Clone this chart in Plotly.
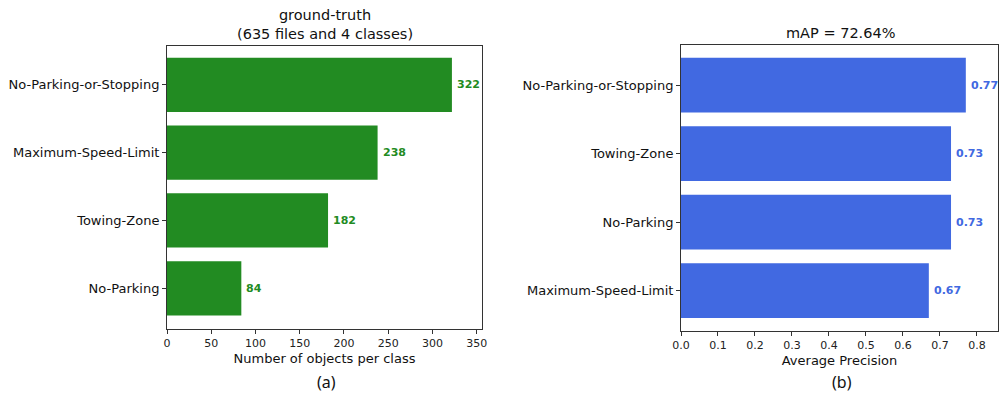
import plotly.graph_objects as go

# Ground-truth object counts per class (bottom to top)
gt_classes = ["No-Parking", "Towing-Zone", "Maximum-Speed-Limit", "No-Parking-or-Stopping"]
gt_counts = [84, 182, 238, 322]

# Average precision per class (bottom to top)
ap_classes = ["Maximum-Speed-Limit", "No-Parking", "Towing-Zone", "No-Parking-or-Stopping"]
ap_values = [0.67, 0.73, 0.73, 0.77]

gt_ticks = [0, 50, 100, 150, 200, 250, 300, 350]
ap_ticks = [0.0, 0.1, 0.2, 0.3, 0.4, 0.5, 0.6, 0.7, 0.8]

GREEN = "#228B22"
BLUE = "#4169E1"
FONT = "DejaVu Sans"
AXIS_COLOR = "#333333"
W, H = 999, 393

fig = go.Figure()

fig.add_trace(go.Bar(
    x=gt_counts, y=gt_classes, orientation="h",
    marker=dict(color=GREEN, line=dict(width=0)),
    width=0.8, xaxis="x", yaxis="y", showlegend=False,
))
fig.add_trace(go.Bar(
    x=ap_values, y=ap_classes, orientation="h",
    marker=dict(color=BLUE, line=dict(width=0)),
    width=0.8, xaxis="x2", yaxis="y2", showlegend=False,
))

annotations = []
for c, v in zip(gt_classes, gt_counts):
    annotations.append(dict(
        x=v, y=c, xref="x", yref="y", text=f"<b>{v}</b>",
        showarrow=False, xanchor="left", xshift=3,
        font=dict(family=FONT, size=11, color=GREEN),
    ))
for c, v in zip(ap_classes, ap_values):
    annotations.append(dict(
        x=v, y=c, xref="x2", yref="y2", text=f"<b>{v:.2f}</b>",
        showarrow=False, xanchor="left", xshift=3,
        font=dict(family=FONT, size=11, color=BLUE),
    ))


def px_note(x, y, text, family=FONT, size=14.5):
    """Annotation placed by pixel position within the page."""
    return dict(x=x / W, y=1 - y / H, xref="paper", yref="paper",
                xanchor="center", yanchor="middle", text=text, showarrow=False,
                font=dict(family=family, size=size, color="#111111"))


annotations += [
    px_note(325, 25, "ground-truth<br>(635 files and 4 classes)"),
    px_note(840, 33, "mAP = 72.64%"),
    px_note(326, 382, "(a)", family="Noto Sans", size=16),
    px_note(842, 382, "(b)", family="Noto Sans", size=16),
]

axis_common = dict(
    showline=True, linecolor=AXIS_COLOR, linewidth=1, mirror=True,
    ticks="outside", ticklen=4, tickcolor=AXIS_COLOR, showgrid=False,
    zeroline=False, automargin=False,
    tickfont=dict(family=FONT, size=11, color="#222222"),
)
ycat_font = dict(family=FONT, size=13, color="#111111")
xtitle_font = dict(family=FONT, size=13, color="#111111")

fig.update_layout(
    width=W, height=H,
    margin=dict(l=0, r=0, t=0, b=0),
    paper_bgcolor="white", plot_bgcolor="white",
    annotations=annotations,
    xaxis=dict(domain=[167 / W, 482 / W], range=[0, 356],
               tickvals=gt_ticks, anchor="y",
               title=dict(text="Number of objects per class", standoff=4,
                          font=xtitle_font),
               **axis_common),
    yaxis=dict(domain=[1 - 329 / H, 1 - 45.5 / H], range=[-0.6, 3.58], anchor="x",
               categoryorder="array", categoryarray=gt_classes,
               **{**axis_common, "tickfont": ycat_font}),
    xaxis2=dict(domain=[681 / W, 998 / W], range=[0, 0.857],
                tickvals=ap_ticks, tickformat=".1f", anchor="y2",
                title=dict(text="Average Precision", standoff=4,
                           font=xtitle_font),
                **axis_common),
    yaxis2=dict(domain=[1 - 331 / H, 1 - 45 / H], range=[-0.59, 3.585], anchor="x2",
                categoryorder="array", categoryarray=ap_classes,
                **{**axis_common, "tickfont": ycat_font}),
)

fig.write_html("out.html")
